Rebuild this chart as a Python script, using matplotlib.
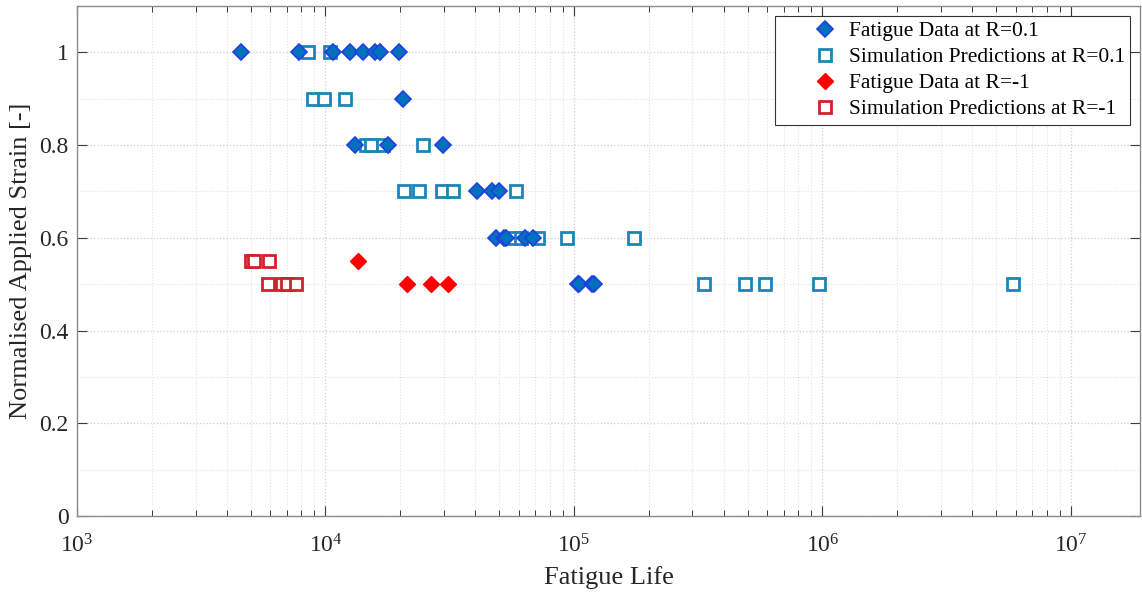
import numpy as np
import matplotlib
matplotlib.use("Agg")
import matplotlib.pyplot as plt
from matplotlib.ticker import LogLocator, MultipleLocator, FixedLocator, NullFormatter

# Fatigue data at R=0.1 (cycles, normalised strain)
exp_r01_life = [4560, 7820, 10720, 12550, 14120, 15820, 16570, 19710,
                20560,
                13140, 17890, 29630,
                40600, 46650, 50050,
                48500, 52400, 53300, 63500, 68500,
                103500, 104700, 117800, 120400]
exp_r01_strain = [1.0, 1.0, 1.0, 1.0, 1.0, 1.0, 1.0, 1.0,
                  0.9,
                  0.8, 0.8, 0.8,
                  0.7, 0.7, 0.7,
                  0.6, 0.6, 0.6, 0.6, 0.6,
                  0.5, 0.5, 0.5, 0.5]

# Simulation predictions at R=0.1
sim_r01_life = [8530, 10420,
                8880, 9860, 11980,
                14600, 15200, 17080, 24610,
                20700, 23850, 29360, 32680, 58430,
                57500, 61000, 72000, 93460, 174300,
                333500, 487700, 586900, 970900, 5828000]
sim_r01_strain = [1.0, 1.0,
                  0.9, 0.9, 0.9,
                  0.8, 0.8, 0.8, 0.8,
                  0.7, 0.7, 0.7, 0.7, 0.7,
                  0.6, 0.6, 0.6, 0.6, 0.6,
                  0.5, 0.5, 0.5, 0.5, 0.5]

# Fatigue data at R=-1
exp_rm1_life = [13550, 21220, 26580, 31210]
exp_rm1_strain = [0.55, 0.5, 0.5, 0.5]

# Simulation predictions at R=-1
sim_rm1_life = [5000, 5160, 5940,
                5850, 6680, 7000, 7610]
sim_rm1_strain = [0.55, 0.55, 0.55,
                  0.5, 0.5, 0.5, 0.5]

plt.rcParams['font.family'] = ['Liberation Serif', 'DejaVu Serif']
plt.rcParams['mathtext.fontset'] = 'custom'
plt.rcParams['mathtext.rm'] = 'Liberation Serif'
plt.rcParams['mathtext.it'] = 'Liberation Serif:italic'

fig = plt.figure(figsize=(11.42, 5.92), dpi=100)
ax = fig.add_axes([0.0674, 0.1284, 0.931, 0.8616])

ax.plot(exp_r01_life, exp_r01_strain, 'D', ms=8.5, mfc='#0072BD', mec='#1f3fe0',
        mew=1.2, label='Fatigue Data at R=0.1', zorder=3)
ax.plot(sim_r01_life, sim_r01_strain, 's', ms=8.5, mfc='white', mec='#1a86b8',
        mew=2, label='Simulation Predictions at R=0.1', zorder=2)
ax.plot(exp_rm1_life, exp_rm1_strain, 'D', ms=8.5, mfc='#ff0000', mec='#ff0000',
        mew=1, label='Fatigue Data at R=-1', zorder=3)
ax.plot(sim_rm1_life, sim_rm1_strain, 's', ms=8.5, mfc='white', mec='#d1202e',
        mew=2, label='Simulation Predictions at R=-1', zorder=2)

ax.set_xscale('log')
ax.set_xlim(1e3, 1.9e7)
ax.set_ylim(0, 1.1)

ax.xaxis.set_major_locator(LogLocator(base=10, numticks=10))
ax.xaxis.set_minor_locator(LogLocator(base=10, subs=np.arange(2, 10), numticks=20))
ax.xaxis.set_minor_formatter(NullFormatter())
ax.yaxis.set_major_locator(FixedLocator([0, 0.2, 0.4, 0.6, 0.8, 1.0]))
ax.yaxis.set_minor_locator(MultipleLocator(0.1))
ax.set_yticklabels(['0', '0.2', '0.4', '0.6', '0.8', '1'])

ax.grid(True, which='major', linestyle=':', color='#cfcfcf', linewidth=0.9)
ax.grid(True, which='minor', linestyle=':', color='#e2e2e2', linewidth=0.8)
ax.set_axisbelow(True)

for s in ax.spines.values():
    s.set_color('#8c8c8c')
    s.set_linewidth(1.0)

ax.tick_params(which='both', direction='in', top=True, right=True,
               colors='#3a3a3a', labelcolor='#262626', labelsize=17)
ax.tick_params(which='major', length=7, width=0.8)
ax.tick_params(which='minor', length=4, width=0.7)
ax.tick_params(axis='x', pad=13)
ax.tick_params(axis='y', pad=6)
ax.tick_params(axis='y', which='minor', left=False, right=False)

ax.set_xlabel('Fatigue Life', fontsize=19, color='#262626', labelpad=6)
ax.set_ylabel('Normalised Applied Strain [-]', fontsize=19, color='#262626', labelpad=5)

# wide handle with negative gap puts the marker well inside the box, close to the text
leg = ax.legend(loc='upper right', fontsize=15.5, frameon=True, fancybox=False,
                edgecolor='#333333', framealpha=1, borderpad=0.25,
                handletextpad=-1.0, labelspacing=0.28, handlelength=4.2,
                borderaxespad=0.45)
leg.get_frame().set_linewidth(0.8)

fig.savefig('out.png', dpi=100)
